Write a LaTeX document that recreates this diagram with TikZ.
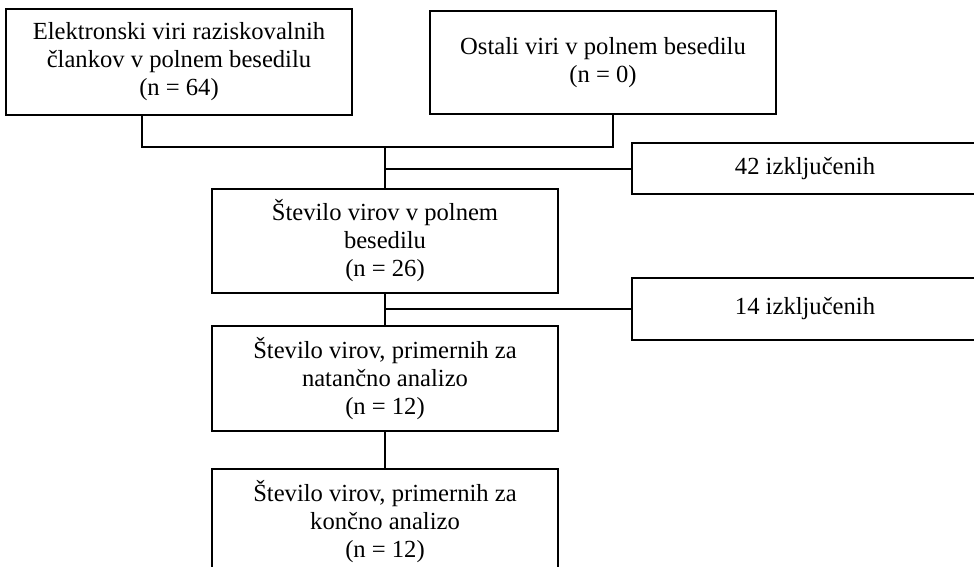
\documentclass[tikz,border=0pt]{standalone}
\usepackage{fontspec}
\setmainfont{Liberation Serif}
\usetikzlibrary{positioning}

\begin{document}
\begin{tikzpicture}[x=0.5pt, y=-0.5pt, line width=1pt,
	box/.style={draw, rectangle, align=center, inner sep=0pt, minimum width=173pt,
		font=\fontsize{12.3}{14}\selectfont}]

\useasboundingbox (0,0) rectangle (974,567);

\node [box, minimum height=53pt] (src) at (179,62) {
	Elektronski viri raziskovalnih \\
	člankov v polnem besedilu \\
	(n = 64)};

\node [box, minimum height=51.5pt] (other) at (603,62.5) {
	Ostali viri v polnem besedilu \\
	(n = 0)};

\node [box, minimum height=52pt] (count) at (385,241) {
	Število virov v polnem \\
	besedilu \\
	(n = 26)};

\node [box, minimum height=52.5pt, below=15.5pt of count] (fine) {
	Število virov, primernih za \\
	natančno analizo \\
	(n = 12)};

\node [box, minimum height=53pt, below=18pt of fine] (final) {
	Število virov, primernih za \\
	končno analizo \\
	(n = 12)};

\node [box, minimum height=25.5pt] (excl1) at (805,168.5) {42 izključenih};
\node [box, minimum height=31pt] (excl2) at (805,309) {14 izključenih};

\coordinate (merge) at (385,147);

\path [draw] ([xshift=-18.5pt]src.south) |- (merge) -| ([xshift=5pt]other.south);
\path [draw] (merge) -- (count.north);
\path [draw] (count.north |- excl1.west) -- (excl1.west);
\path [draw] (count.south) -- (fine.north);
\path [draw] (count.south |- excl2.west) -- (excl2.west);
\path [draw] (fine.south) -- (final.north);

\end{tikzpicture}
\end{document}
